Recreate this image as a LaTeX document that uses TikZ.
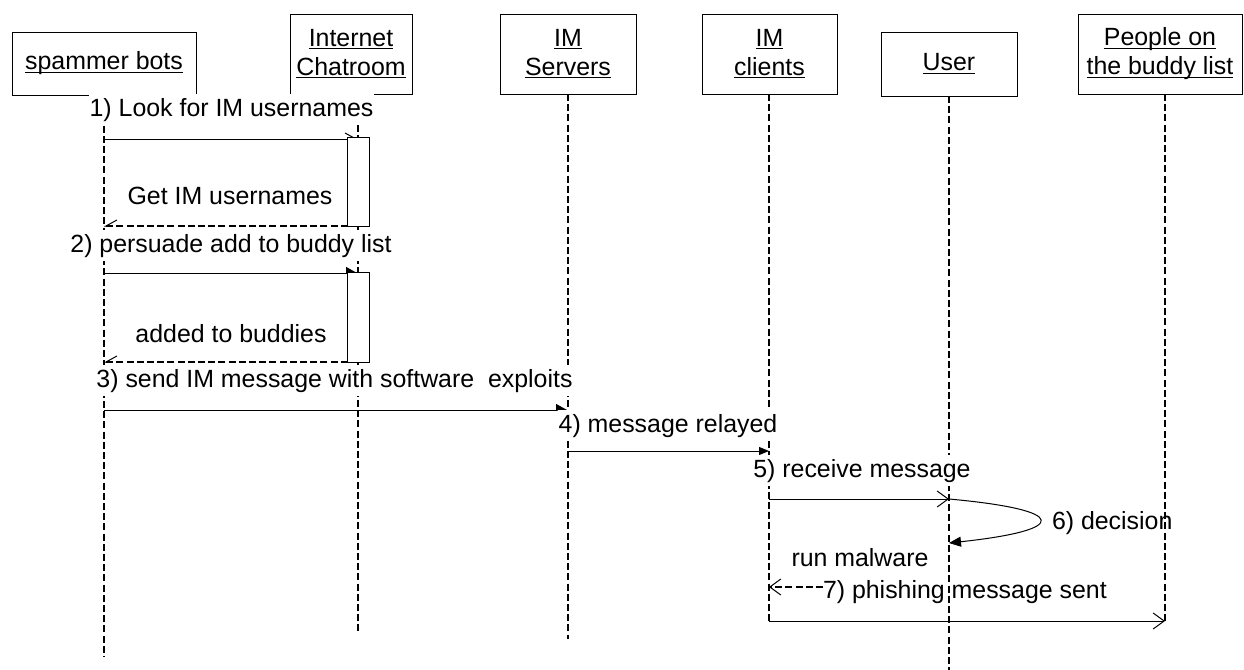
\documentclass[tikz,border=0pt]{standalone}
\usepackage{fontspec}
\setmainfont{Liberation Sans}
\usetikzlibrary{arrows.meta}
% underline at a fixed depth, below the baseline, keeping the natural box height
\newcommand{\uln}[1]{\underline{\smash{#1}}\vphantom{#1}}

\begin{document}
\begin{tikzpicture}[x=0.5pt,y=-0.5pt,
  every node/.style={font=\fontsize{12.45}{14.5}\selectfont, inner sep=0pt, outer sep=0pt},
  actor/.style={draw=black, line width=0.5pt, align=center},
  lifeline/.style={line width=1.1pt, dash pattern=on 3.5pt off 1.6pt},
  msg/.style={line width=0.5pt},
  reply/.style={line width=1.1pt, dash pattern=on 3.5pt off 1.6pt},
  actbox/.style={draw=black, fill=white, line width=0.5pt, minimum width=11pt},
  lbl/.style={anchor=base, fill=white, inner xsep=0.5pt, inner ysep=2pt},
  openhead/.style={-{Straight Barb[length=5.5pt,width=8pt,line width=0.5pt]}},
  halfopen/.style={-{Straight Barb[left,length=5.5pt,width=6pt,line width=0.5pt]}},
  halfopenback/.style={-{Straight Barb[right,length=5.5pt,width=6pt,line width=0.5pt]}},
  halffill/.style={-{Triangle[left,length=5.5pt,width=6pt]}},
  fullfill/.style={-{Triangle[length=5pt,width=4pt]}},
]
\useasboundingbox (0,0) rectangle (1244,670);

% participants
\node[actor, minimum width=92pt, minimum height=31.5pt] (spam) at (104,63.5) {\uln{spammer bots}};
\node[actor, minimum width=61pt, minimum height=40pt] (chat) at (351,54) {\uln{Internet}\\\uln{Chatroom}};
\node[actor, minimum width=68pt, minimum height=40pt] (serv) at (568,54) {\uln{IM}\\\uln{Servers}};
\node[actor, minimum width=67.5pt, minimum height=40pt] (cli) at (769.5,54) {\uln{IM}\\\uln{clients}};
\node[actor, minimum width=68pt, minimum height=32pt] (usr) at (949,64) {\uln{User}};
\node[actor, minimum width=82pt, minimum height=40pt] (ppl) at (1160,54) {\uln{People on}\\\uln{the buddy list}};

% lifeline ends
\coordinate (spamEnd) at (104,657);
\coordinate (chatEnd) at (358,632);
\coordinate (servEnd) at (568,639);
\coordinate (cliEnd) at (769,621);
\coordinate (usrEnd) at (949,670);
\coordinate (pplEnd) at (1165,621);

\draw[lifeline] (spam.south -| spamEnd) -- (spamEnd);
\draw[lifeline] (chat.south -| chatEnd) -- (chatEnd);
\draw[lifeline] (serv.south -| servEnd) -- (servEnd);
\draw[lifeline] (cli.south -| cliEnd) -- (cliEnd);
\draw[lifeline] (usr.south -| usrEnd) -- (usrEnd);
\draw[lifeline] (ppl.south -| pplEnd) -- (pplEnd);

% message end points on the lifelines
\coordinate (m1a) at (104,139);  \coordinate (m1b) at (358,139);
\coordinate (r1a) at (358,226);  \coordinate (r1b) at (104,226);
\coordinate (m2a) at (104,273);  \coordinate (m2b) at (358,273);
\coordinate (r2a) at (358,362);  \coordinate (r2b) at (104,362);
\coordinate (m3a) at (104,410);  \coordinate (m3b) at (568,410);
\coordinate (m4a) at (568,451);  \coordinate (m4b) at (769,451);
\coordinate (m5a) at (769,499);  \coordinate (m5b) at (949,499);
\coordinate (m6b) at (949,543);
\coordinate (r7a) at (823,587);  \coordinate (r7b) at (769,587);
\coordinate (m7a) at (769,621);  \coordinate (m7b) at (1165,621);

% messages
\draw[msg, halfopen] (m1a) -- (m1b);
\draw[reply, halfopenback] (r1a) -- (r1b);
\draw[msg, halffill] (m2a) -- (m2b);
\draw[reply, halfopenback] (r2a) -- (r2b);
\draw[msg, halffill] (m3a) -- (m3b);
\draw[msg, fullfill] (m4a) -- (m4b);
\draw[msg, openhead] (m5a) -- (m5b);
\draw[msg, -{Triangle[length=6pt,width=5pt]}] (m5b) .. controls (1070,510) and (1070,530) .. (m6b);
\draw[reply, openhead] (r7a) -- (r7b);
\draw[msg, openhead] (m7a) -- (m7b);

% activations on the chatroom lifeline
\node[actbox, minimum height=44.5pt] (act1) at (358,181.5) {};
\node[actbox, minimum height=45pt] (act2) at (358,317) {};

% message labels
\node[lbl] (t1) at (231.5,116) {1) Look for IM usernames};
\node[lbl] (t1r) at (230,204) {Get IM usernames};
\node[lbl] (t2) at (231,252) {2) persuade add to buddy list};
\node[lbl] (t2r) at (231,342) {added to buddies};
\node[lbl] (t3) at (334.5,387) {3) send IM message with software\ \ exploits};
\node[lbl] (t4) at (668,432) {4) message relayed};
\node[lbl] (t5) at (862,477) {5) receive message};
\node[anchor=base west] (t6) at (1052,529) {6) decision};
\node[lbl] (t6r) at (860,566) {run malware};
\node[anchor=base west] (t7) at (823,598) {7) phishing message sent};
\end{tikzpicture}
\end{document}
